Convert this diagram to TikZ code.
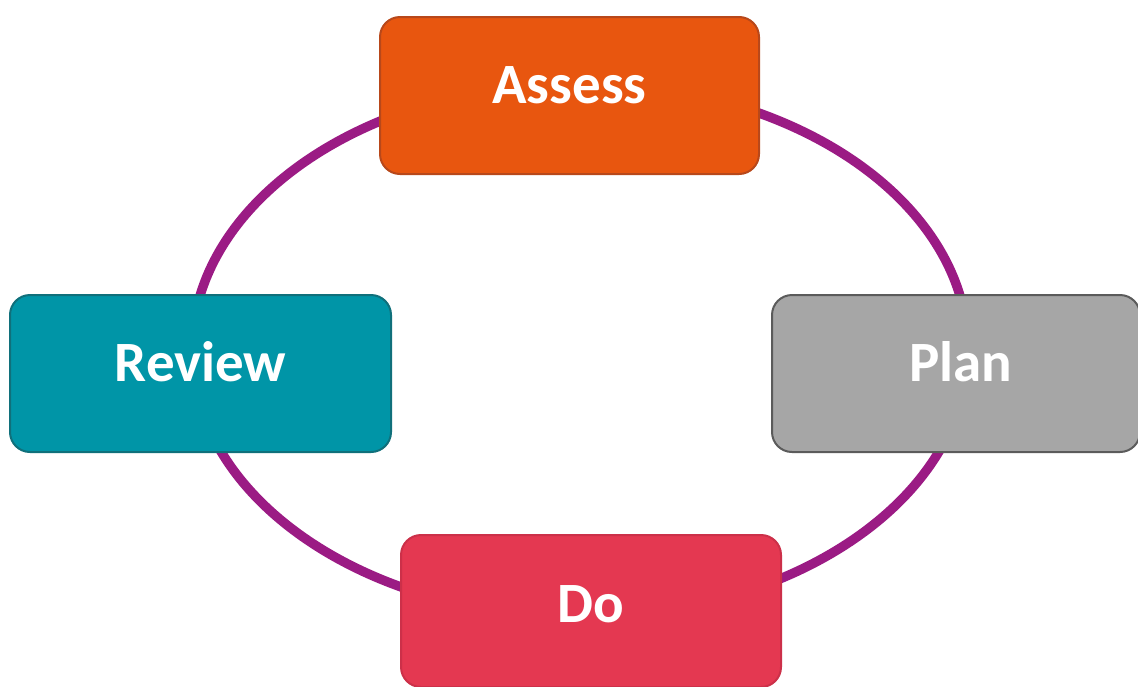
\documentclass[tikz,border=0pt]{standalone}
\usepackage{fontspec}
\setmainfont{Carlito}
\definecolor{cyclepurple}{HTML}{9B1B84}
\definecolor{assessfill}{HTML}{E8560F}
\definecolor{assessdraw}{HTML}{B8481A}
\definecolor{reviewfill}{HTML}{0095A7}
\definecolor{reviewdraw}{HTML}{10707B}
\definecolor{planfill}{HTML}{A6A6A6}
\definecolor{plandraw}{HTML}{5B5B5B}
\definecolor{dofill}{HTML}{E43851}
\definecolor{dodraw}{HTML}{CC3049}
\tikzset{
  stagebox/.style={rectangle, rounded corners=10pt, line width=1pt,
    minimum height=78.5pt, text=white, font=\bfseries\fontsize{28.5}{31}\selectfont,
    text height=18pt, text depth=10.5pt, inner sep=0pt},
  cycleline/.style={draw=cyclepurple, line width=4.7pt}
}
\begin{document}
\begin{tikzpicture}[x=0.5pt, y=-0.5pt]
\clip (0,0) rectangle (1138,686);
\fill[white] (0,0) rectangle (1138,686);
\draw[cycleline] (580,350) ellipse [x radius=388, y radius=267];
\node[stagebox, fill=assessfill, draw=assessdraw, minimum width=189.5pt] (assess) at (569.5,95.5) {Assess};
\node[stagebox, fill=reviewfill, draw=reviewdraw, minimum width=190.5pt] (review) at (200.5,373.5) {Review};
\node[stagebox, fill=planfill, draw=plandraw, minimum width=184pt] (plan) at (956,373.5) {\hspace*{5pt}Plan};
\node[stagebox, fill=dofill, draw=dodraw, minimum width=190pt, minimum height=76pt, text depth=6.5pt] (do) at (591,611) {Do};
\end{tikzpicture}
\end{document}
